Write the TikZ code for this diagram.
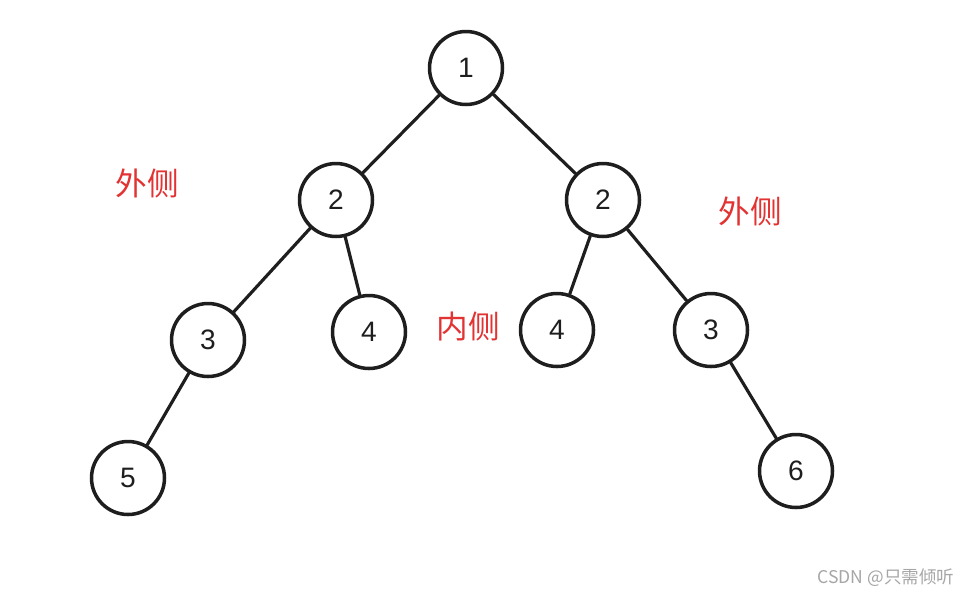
\documentclass[tikz,border=0pt]{standalone}
\usepackage{fontspec}
\setmainfont{Liberation Sans}
\newfontfamily\cjk{Noto Sans CJK SC}
\definecolor{sidered}{RGB}{226,50,50}
\definecolor{ink}{RGB}{30,30,30}
\begin{document}
\begin{tikzpicture}[x=0.02cm,y=-0.02cm,
        knot/.style={circle,draw=ink,text=ink,line width=2pt,minimum size=1.46cm,inner sep=0pt,font=\fontsize{16}{16}\selectfont},
        side/.style={text=sidered,font=\cjk\fontsize{18}{18}\selectfont},
        link/.style={draw=ink,line width=1.8pt,line cap=round}]
            \useasboundingbox (0,0) rectangle (969,596);
            \node[knot](a) at (466,68){1};
            \node[knot](bl) at (336,200){2};
            \node[knot](br) at (603,200){2};
            \node[knot](cl) at (208,340){3};
            \node[knot](dl) at (369,332){4};
            \node[knot](dr) at (557,330){4};
            \node[knot](cr) at (711,330){3};
            \node[knot](e) at (128,478){5};
            \node[knot](f) at (796,471){6};
            \draw[link] (a) -- (bl);
            \draw[link] (a) -- (br);
            \draw[link] (bl) -- (cl);
            \draw[link] (bl) -- (dl);
            \draw[link] (br) -- (dr);
            \draw[link] (br) -- (cr);
            \draw[link] (cl) -- (e);
            \draw[link] (cr) -- (f);
            \node[side](outl) at (147,183){外侧};
            \node[side](outr) at (750,211){外侧};
            \node[side](inn) at (468,327){内侧};
            \node[text=gray!70,font=\cjk\fontsize{10}{10}\selectfont](mark) at (886,578){CSDN @只需倾听};
\end{tikzpicture}
\end{document}
